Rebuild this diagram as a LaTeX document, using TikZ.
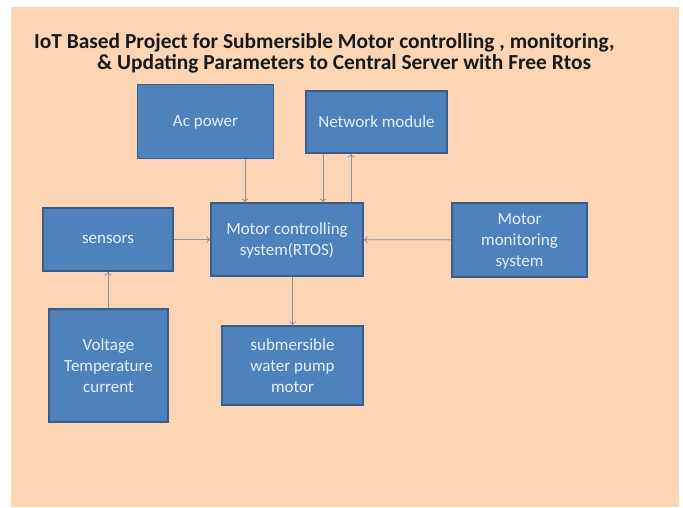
\documentclass[tikz,border=0pt]{standalone}
\usepackage{fontspec}
\setmainfont{Carlito}
\usetikzlibrary{arrows.meta}
\definecolor{peach}{RGB}{252,213,181}
\definecolor{boxfill}{RGB}{79,129,189}
\definecolor{boxline}{RGB}{56,93,138}
\definecolor{boxtext}{RGB}{230,240,250}
\definecolor{arrline}{RGB}{138,148,168}
\tikzset{
    box/.style={draw=boxline, line width=1.2pt, fill=boxfill, text=boxtext,
        align=center, inner sep=0pt, text depth=-2pt, font=\fontsize{17}{21}\selectfont},
    arr/.style={draw=arrline, line width=0.8pt, -{To[length=4pt,width=7pt]}},
    title/.style={anchor=west, inner sep=0pt, text=black!90,
        font=\fontsize{21.4}{24}\bfseries}
}
\begin{document}
\begin{tikzpicture}[x=1pt, y=-1pt]
        \fill[white] (0,0) rectangle (683,507);
        \fill[peach] (11,7) rectangle (679,507);

        \node[title] (t1) at (34,43) {IoT Based Project for Submersible Motor controlling , monitoring,};
        \node[title] (t2) at (97,64) {\& Updating Parameters to Central Server with Free Rtos};

        \node[box, minimum width=136pt, minimum height=74pt] (ac) at (205.5,121.5) {Ac power};
        \node[box, minimum width=141pt, minimum height=62pt] (net) at (376.5,122) {Network module};
        \node[box, minimum width=152pt, minimum height=73pt] (ctrl) at (287,239.5) {Motor controlling\\system(RTOS)};
        \node[box, minimum width=130pt, minimum height=63pt] (sens) at (108,239.5) {sensors};
        \node[box, minimum width=135pt, minimum height=74pt] (mon) at (519.5,240) {Motor\\monitoring\\system};
        \node[box, minimum width=119pt, minimum height=113pt] (volt) at (108.5,365.5) {Voltage\\Temperature\\current};
        \node[box, minimum width=141pt, minimum height=79pt] (pump) at (292.5,365.5) {submersible\\water pump\\motor};

        \draw[arr] ([xshift=39.5pt]ac.south) -- ([xshift=39.5pt]ac.south |- ctrl.north);
        \draw[arr] ([xshift=-53.5pt]net.south) -- ([xshift=-53.5pt]net.south |- ctrl.north);
        \draw[arr] ([xshift=64pt]ctrl.north) -- ([xshift=64pt]ctrl.north |- net.south);
        \draw[arr] (sens) -- (ctrl);
        \draw[arr] (mon) -- (ctrl);
        \draw[arr] (volt.north -| sens.south) -- (sens.south);
        \draw[arr] (ctrl.south -| pump.north) -- (pump.north);
    \end{tikzpicture}
\end{document}
